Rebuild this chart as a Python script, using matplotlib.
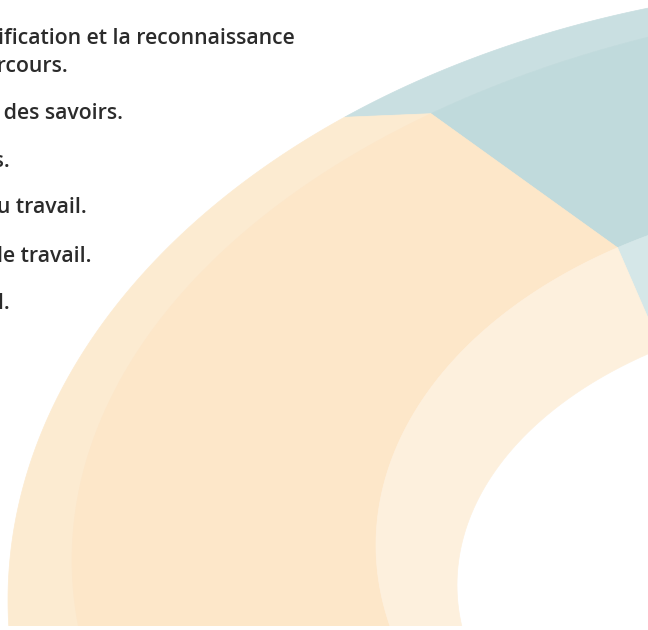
import numpy as np
import matplotlib
matplotlib.use("Agg")
import matplotlib.pyplot as plt

# donut segments (only two of them fall inside the crop)
segments = ["Accompagnement", "Certification"]
shares = [23.2, 33.3]          # percent of the full ring
start_angle = 40.3             # degrees, counter-clockwise from 3 o'clock

# three shades per segment: outer rim, top face, inner rim
colors = {
    "Accompagnement": ["#c9dfe1", "#c0dadc", "#d5e7e8"],
    "Certification": ["#fcebd1", "#fde7c9", "#fdf0dd"],
}

# legend text on the left (cut by the left edge of the picture)
lines = [
    "Favoriser la certification et la reconnaissance",
    "des parcours.",
    "Encourager la transmission des savoirs.",
    "Développer les compétences.",
    "Améliorer la qualité de vie au travail.",
    "Mieux concilier la vie privée et le travail.",
    "Renforcer le dialogue social.",
]
line_right = [295, 68, 123, 10, 87, 92, 10]
line_base = [44, 72, 119, 167, 213, 262, 309]

# ellipses in pixel space: cx, cy, a, b, angle offset
rims = {
    "outer": (900, 600, 892, 617, 4.7),
    "top": (1000, 560, 928, 565, 4.0),
    "mid": (900, 545, 524, 353, -1.2),
    "hole": (900, 585, 443, 281, -1.2),
}
rings = [("outer", "top", 0), ("top", "mid", 1), ("mid", "hole", 2)]


def arc(name, t0, t1, n=300):
    cx, cy, a, b, off = rims[name]
    th = np.radians(np.linspace(t0 + off, t1 + off, n))
    return cx + a * np.cos(th), cy - b * np.sin(th)


fig = plt.figure(figsize=(6.48, 6.30), dpi=100)
ax = fig.add_axes([0, 4 / 630, 1, 626 / 630])
ax.set_xlim(0, 648)
ax.set_ylim(626, 0)
ax.axis("off")

bounds = start_angle + np.concatenate([[0], np.cumsum(shares)]) * 3.6
for i, seg in enumerate(segments):
    t0, t1 = bounds[i], bounds[i + 1]
    for outer, inner, shade in rings:
        xo, yo = arc(outer, t0, t1)
        xi, yi = arc(inner, t1, t0)
        c = colors[seg][shade]
        ax.fill(np.concatenate([xo, xi]), np.concatenate([yo, yi]),
                facecolor=c, edgecolor=c, lw=0.5)

for s, xr, yb in zip(lines, line_right, line_base):
    ax.text(xr, yb, s, ha="right", va="baseline", fontsize=15.3,
            family="Open Sans", fontweight="semibold", color="#2b2b2b",
            clip_on=False)

fig.savefig("out.png", dpi=100, facecolor="white")
